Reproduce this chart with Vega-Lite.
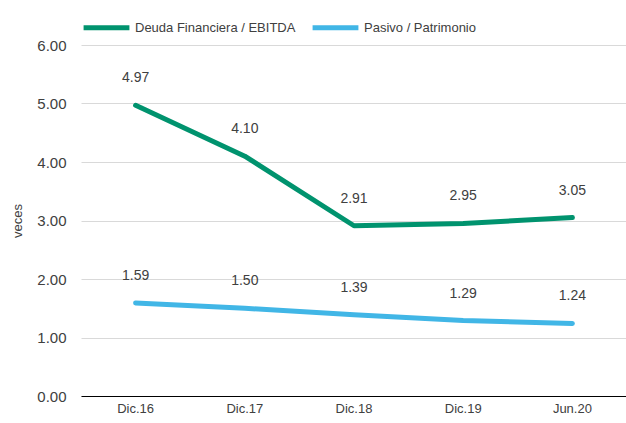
{
  "$schema": "https://vega.github.io/schema/vega-lite/v6.json",
  "width": 546,
  "height": 351,
  "autosize": {"type": "none"},
  "padding": {"left": 81, "top": 45, "right": 0, "bottom": 27},
  "background": "white",
  "config": {
    "view": {"stroke": null},
    "font": "Liberation Sans"
  },
  "data": {
    "values": [
      {"periodo": "Dic.16", "serie": "Deuda Financiera / EBITDA", "valor": 4.97},
      {"periodo": "Dic.17", "serie": "Deuda Financiera / EBITDA", "valor": 4.10},
      {"periodo": "Dic.18", "serie": "Deuda Financiera / EBITDA", "valor": 2.91},
      {"periodo": "Dic.19", "serie": "Deuda Financiera / EBITDA", "valor": 2.95},
      {"periodo": "Jun.20", "serie": "Deuda Financiera / EBITDA", "valor": 3.05},
      {"periodo": "Dic.16", "serie": "Pasivo / Patrimonio", "valor": 1.59},
      {"periodo": "Dic.17", "serie": "Pasivo / Patrimonio", "valor": 1.50},
      {"periodo": "Dic.18", "serie": "Pasivo / Patrimonio", "valor": 1.39},
      {"periodo": "Dic.19", "serie": "Pasivo / Patrimonio", "valor": 1.29},
      {"periodo": "Jun.20", "serie": "Pasivo / Patrimonio", "valor": 1.24}
    ]
  },
  "encoding": {
    "x": {
      "field": "periodo",
      "type": "ordinal",
      "sort": null,
      "scale": {"type": "band", "paddingInner": 0, "paddingOuter": 0},
      "axis": {
        "title": null,
        "labelAngle": 0,
        "labelFont": "Liberation Sans",
        "labelFontSize": 13,
        "labelColor": "#404040",
        "labelPadding": 6,
        "ticks": false,
        "domainColor": "#000000",
        "domainWidth": 1.2,
        "grid": false
      }
    },
    "y": {
      "field": "valor",
      "type": "quantitative",
      "scale": {"domain": [0, 6], "nice": false},
      "axis": {
        "title": "veces",
        "titleFont": "Liberation Sans",
        "titleFontSize": 13,
        "titleFontWeight": "normal",
        "titleColor": "#404040",
        "titlePadding": 12,
        "values": [0, 1, 2, 3, 4, 5, 6],
        "format": ".2f",
        "labelFont": "Liberation Sans",
        "labelFontSize": 15,
        "labelColor": "#404040",
        "labelPadding": 15,
        "ticks": false,
        "domain": false,
        "grid": true,
        "gridColor": "#d9d9d9",
        "gridWidth": 1
      }
    },
    "color": {
      "field": "serie",
      "type": "nominal",
      "scale": {
        "domain": ["Deuda Financiera / EBITDA", "Pasivo / Patrimonio"],
        "range": ["#00936e", "#41b6e6"]
      },
      "legend": {
        "title": null,
        "orient": "top",
        "offset": 7,
        "direction": "horizontal",
        "symbolType": "stroke",
        "symbolSize": 2100,
        "symbolStrokeWidth": 5,
        "labelFont": "Liberation Sans",
        "labelFontSize": 13,
        "labelColor": "#404040",
        "labelOffset": 3,
        "columnPadding": 6,
        "labelLimit": 300
      }
    }
  },
  "layer": [
    {
      "mark": {"type": "line", "strokeWidth": 5, "strokeCap": "round", "strokeJoin": "round"}
    },
    {
      "mark": {"type": "text", "dy": -27, "fontSize": 14, "font": "Liberation Sans", "color": "#404040"},
      "encoding": {
        "text": {"field": "valor", "type": "quantitative", "format": ".2f"},
        "color": {"value": "#404040"}
      }
    }
  ]
}
